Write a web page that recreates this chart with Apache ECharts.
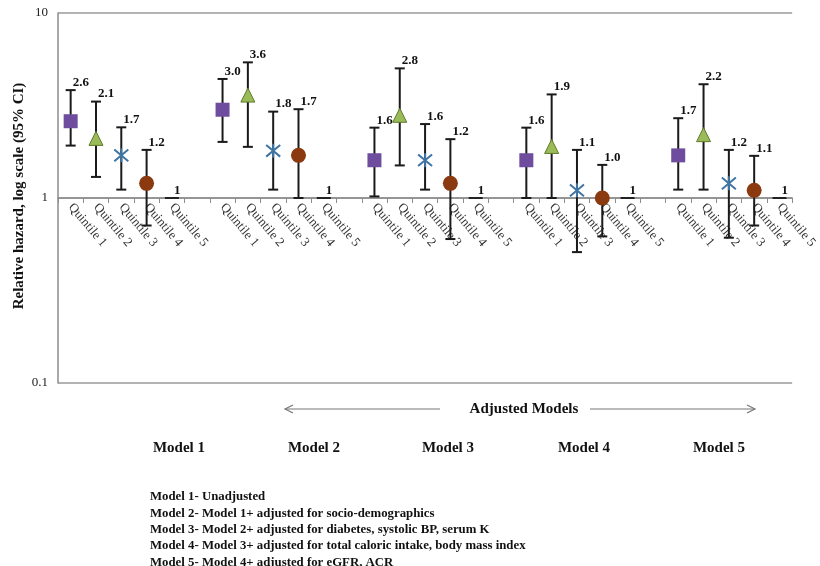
<!DOCTYPE html>
<html>
<head>
<meta charset="utf-8">
<script src="https://cdn.jsdelivr.net/npm/echarts@6/dist/echarts.min.js"></script>
<style>html,body{margin:0;padding:0;background:#fff}#c{width:820px;height:566px}</style>
</head>
<body>
<div id="c"></div>
<script>
// ---- data ----
const models = ['Model 1', 'Model 2', 'Model 3', 'Model 4', 'Model 5'];
const quintiles = ['Quintile 1', 'Quintile 2', 'Quintile 3', 'Quintile 4', 'Quintile 5'];
const modelNotes = [
  'Model 1- Unadjusted',
  'Model 2- Model 1+ adjusted for socio-demographics',
  'Model 3- Model 2+ adjusted for diabetes, systolic BP, serum K',
  'Model 4- Model 3+ adjusted for total caloric intake, body mass index',
  'Model 5- Model 4+ adjusted for eGFR, ACR'
];
const spanLabel = 'Adjusted Models';
const yTitle = 'Relative hazard, log scale (95% CI)';

// hazard ratios (per quintile, across Model 1..5)
const hrQ1 = [2.6, 3.0, 1.6, 1.6, 1.7];
const hrQ2 = [2.1, 3.6, 2.8, 1.9, 2.2];
const hrQ3 = [1.7, 1.8, 1.6, 1.1, 1.2];
const hrQ4 = [1.2, 1.7, 1.2, 1.0, 1.1];
const hrQ5 = [1, 1, 1, 1, 1];
// lower 95% CI
const loQ1 = [1.92, 2.01, 1.02, 1.0, 1.11];
const loQ2 = [1.30, 1.89, 1.50, 1.0, 1.11];
const loQ3 = [1.11, 1.11, 1.11, 0.51, 0.61];
const loQ4 = [0.71, 1.0, 0.60, 0.62, 0.71];
const loQ5 = [null, null, null, null, null];
// upper 95% CI
const hiQ1 = [3.83, 4.40, 2.40, 2.40, 2.70];
const hiQ2 = [3.32, 5.41, 5.02, 3.63, 4.12];
const hiQ3 = [2.41, 2.93, 2.51, 1.82, 1.82];
const hiQ4 = [1.82, 3.02, 2.08, 1.51, 1.69];
const hiQ5 = [null, null, null, null, null];
const labelDecimals = [1, 1, 1, 1, 0];

// ---- build ----
const FONT = '"Liberation Serif", "Times New Roman", serif';
const hrAll = [hrQ1, hrQ2, hrQ3, hrQ4, hrQ5];
const loAll = [loQ1, loQ2, loQ3, loQ4, loQ5];
const hiAll = [hiQ1, hiQ2, hiQ3, hiQ4, hiQ5];

const categories = [];
models.forEach((m, mi) => {
  quintiles.forEach(q => categories.push(q));
  if (mi < models.length - 1) categories.push('');
});
const catIndex = (mi, qi) => mi * 6 + qi;

const markerStyles = [
  { symbol: 'rect', symbolSize: 14, itemStyle: { color: '#6E4C9E', opacity: 1 } },
  { symbol: 'triangle', symbolSize: 14, itemStyle: { color: '#9BBB59', borderColor: '#5E7A2A', borderWidth: 1, opacity: 1 } },
  { symbol: 'path://M0,0L10,10M10,0L0,10M5,-1L5,11', symbolSize: 14, itemStyle: { color: 'rgba(0,0,0,0)', borderColor: '#3F74A3', borderWidth: 2, opacity: 1 } },
  { symbol: 'circle', symbolSize: 15, itemStyle: { color: '#8B3A10', opacity: 1 } },
  { symbol: 'rect', symbolSize: [14, 2], itemStyle: { color: '#222', opacity: 1 } }
];

function makeRender(qi) {
  return function (params, api) {
    const mi = params.dataIndex;
    const x = api.value(0);
    const lo = loAll[qi][mi], hi = hiAll[qi][mi], hr = hrAll[qi][mi];
    const label = hr.toFixed(labelDecimals[qi]);
    const children = [];
    const st = { stroke: '#1a1a1a', lineWidth: 2 };
    let top;
    if (lo != null && hi != null) {
      const pH = api.coord([x, hi]);
      const pL = api.coord([x, lo]);
      const cw = 5;
      children.push({ type: 'line', shape: { x1: pH[0], y1: pH[1], x2: pL[0], y2: pL[1] }, style: st });
      children.push({ type: 'line', shape: { x1: pH[0] - cw, y1: pH[1], x2: pH[0] + cw, y2: pH[1] }, style: st });
      children.push({ type: 'line', shape: { x1: pL[0] - cw, y1: pL[1], x2: pL[0] + cw, y2: pL[1] }, style: st });
      top = pH;
    } else {
      top = api.coord([x, hr]);
    }
    children.push({
      type: 'text',
      style: {
        x: top[0] + 2, y: top[1] - 1, text: label,
        fill: '#111', font: 'bold 13px ' + FONT,
        textAlign: 'left', textVerticalAlign: 'bottom'
      }
    });
    return { type: 'group', children };
  };
}

const series = [];
quintiles.forEach((q, qi) => {
  const errData = models.map((m, mi) => [
    catIndex(mi, qi),
    loAll[qi][mi] != null ? loAll[qi][mi] : hrAll[qi][mi],
    hiAll[qi][mi] != null ? hiAll[qi][mi] : hrAll[qi][mi]
  ]);
  series.push({
    type: 'custom', name: q + ' CI', renderItem: makeRender(qi), data: errData,
    encode: { x: 0, y: [1, 2] }, z: 2, silent: true
  });
});
quintiles.forEach((q, qi) => {
  const pts = models.map((m, mi) => [catIndex(mi, qi), hrAll[qi][mi]]);
  series.push(Object.assign({ type: 'scatter', name: q, data: pts, z: 5, silent: true }, markerStyles[qi]));
});

const gLeft = 58, gRight = 795, gTop = 13, gBottom = 383;
const modelX = [179, 314, 448, 584, 719];
const graphic = [];
const ay = 409;
graphic.push({ type: 'line', shape: { x1: 285, y1: ay, x2: 440, y2: ay }, style: { stroke: '#777', lineWidth: 1.2 } });
graphic.push({ type: 'polyline', shape: { points: [[293, ay - 4], [285, ay], [293, ay + 4]] }, style: { stroke: '#777', lineWidth: 1.2, fill: null } });
graphic.push({ type: 'line', shape: { x1: 590, y1: ay, x2: 755, y2: ay }, style: { stroke: '#777', lineWidth: 1.2 } });
graphic.push({ type: 'polyline', shape: { points: [[747, ay - 4], [755, ay], [747, ay + 4]] }, style: { stroke: '#777', lineWidth: 1.2, fill: null } });
graphic.push({ type: 'text', x: 524, y: ay, style: { text: spanLabel, font: 'bold 15px ' + FONT, fill: '#111', textAlign: 'center', textVerticalAlign: 'middle' } });
models.forEach((m, i) => {
  graphic.push({ type: 'text', x: modelX[i], y: 448, style: { text: m, font: 'bold 15px ' + FONT, fill: '#111', textAlign: 'center', textVerticalAlign: 'middle' } });
});
modelNotes.forEach((t, i) => {
  graphic.push({ type: 'text', x: 150, y: 497 + i * 16.3, style: { text: t, font: 'bold 12.8px ' + FONT, fill: '#111', textAlign: 'left', textVerticalAlign: 'middle' } });
});
graphic.push({ type: 'text', x: 19, y: 196, rotation: Math.PI / 2, style: { text: yTitle, font: 'bold 15px ' + FONT, fill: '#111', textAlign: 'center', textVerticalAlign: 'middle' } });

const chart = echarts.init(document.getElementById('c'), null, { renderer: 'canvas' });
chart.setOption({
  animation: false,
  backgroundColor: '#fff',
  grid: { left: gLeft, right: 820 - gRight, top: gTop, bottom: 566 - gBottom, containLabel: false },
  xAxis: {
    type: 'category', data: categories, boundaryGap: true,
    position: 'bottom', offset: -(gBottom - gTop) / 2,
    axisLine: { lineStyle: { color: '#8c8c8c', width: 1.5 } },
    axisTick: { show: true, length: 5, lineStyle: { color: '#8c8c8c', width: 1 } },
    axisLabel: { interval: 0, rotate: -50, margin: 7, fontFamily: FONT, fontSize: 13, color: '#333' },
    splitLine: { show: false }
  },
  yAxis: {
    type: 'log', logBase: 10, min: 0.1, max: 10,
    axisLine: { show: true, lineStyle: { color: '#8c8c8c', width: 1.5 } },
    axisTick: { show: false },
    axisLabel: { fontFamily: FONT, fontSize: 13, color: '#222', margin: 10, formatter: v => String(+v.toPrecision(2)) },
    splitLine: { show: true, lineStyle: { color: '#9a9a9a', width: 1.5 } },
    minorTick: { show: false }
  },
  series,
  graphic
});
</script>
</body>
</html>
